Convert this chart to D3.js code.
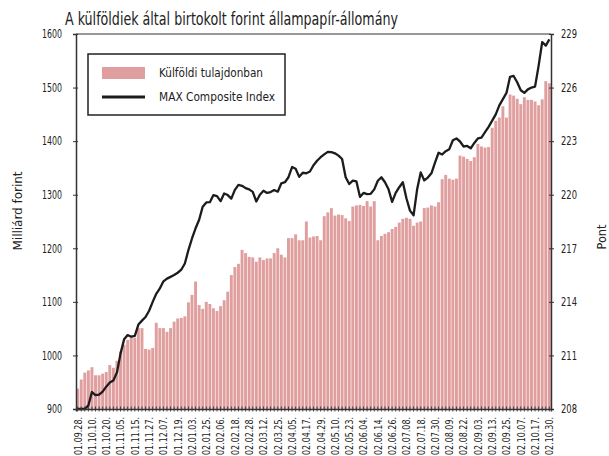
<!DOCTYPE html>
<html>
<head>
<meta charset="utf-8">
<script src="https://cdn.jsdelivr.net/npm/d3@7"></script>
<style>
  body { margin: 0; background: #fff; }
  svg text { font-family: "DejaVu Sans Condensed", "Liberation Sans", sans-serif; fill: #222; }
</style>
</head>
<body>
<svg id="chart" width="609" height="456"></svg>
<script>
// dátum címkék (minden 4. oszlop alatt)
const dateLabels = [
  '01.09.28.', '01.10.10.', '01.10.20.', '01.11.05.', '01.11.15.', '01.11.27.', '01.12.07.', '01.12.19.',
  '02.01.03.', '02.01.25.', '02.02.06.', '02.02.18.', '02.02.28.', '02.03.12.', '02.03.25.', '02.04.05.',
  '02.04.17.', '02.04.29.', '02.05.10.', '02.05.23.', '02.06.04.', '02.06.14.', '02.06.26.', '02.07.08.',
  '02.07.18.', '02.07.30.', '02.08.09.', '02.08.22.', '02.09.03.', '02.09.13.', '02.09.25.', '02.10.07.',
  '02.10.17.', '02.10.30.'
];

// külföldi tulajdonban lévő állomány, milliárd forint
const holdings = [
  938, 955, 968, 972, 978, 963, 963, 966, 969, 982, 977, 990, 1007, 1020, 1029, 1035, 1033, 1051, 1051, 1012,
  1011, 1014, 1061, 1051, 1051, 1044, 1051, 1063, 1069, 1070, 1073, 1099, 1113, 1138, 1094, 1087, 1100, 1096, 1088, 1083,
  1092, 1103, 1119, 1150, 1165, 1171, 1197, 1191, 1184, 1183, 1175, 1183, 1178, 1181, 1181, 1191, 1200, 1188, 1183, 1219,
  1219, 1226, 1215, 1215, 1250, 1220, 1222, 1223, 1215, 1260, 1267, 1275, 1261, 1263, 1262, 1256, 1251, 1278, 1280, 1281,
  1279, 1288, 1278, 1288, 1215, 1223, 1227, 1230, 1236, 1240, 1248, 1255, 1257, 1255, 1242, 1248, 1250, 1275, 1276, 1280,
  1278, 1286, 1329, 1337, 1330, 1328, 1330, 1373, 1371, 1367, 1363, 1370, 1395, 1390, 1388, 1389, 1425, 1438, 1444, 1465,
  1444, 1487, 1485, 1479, 1469, 1482, 1477, 1477, 1474, 1467, 1478, 1512, 1508
];

// MAX Composite Index, pont
const maxIndex = [
  208.0, 208.0, 208.0, 208.2, 208.95, 208.78, 208.8, 208.97, 209.25, 209.48, 209.6, 210.05, 211.1, 211.9, 212.14, 212.05, 212.1, 212.73, 212.95, 213.15,
  213.5, 214.0, 214.45, 214.75, 215.15, 215.3, 215.4, 215.5, 215.63, 215.8, 216.15, 216.9, 217.55, 218.12, 218.6, 219.33, 219.57, 219.58, 219.98, 219.92,
  219.64, 220.07, 219.98, 219.78, 220.27, 220.55, 220.5, 220.37, 220.3, 220.16, 219.62, 220.0, 220.22, 220.1, 220.15, 220.26, 220.17, 220.64, 220.7, 220.98,
  221.55, 221.45, 221.0, 221.23, 221.2, 221.3, 221.65, 221.9, 222.1, 222.26, 222.4, 222.38, 222.32, 222.19, 222.0, 220.98, 220.6, 220.79, 220.75, 219.88,
  220.1, 220.03, 220.05, 220.3, 220.78, 220.98, 220.7, 220.3, 219.6, 220.1, 220.42, 220.7, 219.8, 219.11, 218.85, 220.3, 221.25, 220.8, 220.96, 221.2,
  221.8, 222.35, 222.25, 222.44, 222.55, 223.05, 223.15, 222.98, 222.7, 222.73, 222.6, 222.9, 223.15, 223.2, 223.5, 223.8, 224.15, 224.5, 225.0, 225.35,
  225.7, 226.6, 226.65, 226.3, 225.85, 225.7, 225.9, 226.0, 226.05, 227.23, 228.55, 228.35, 228.7
];

const leftTicks = [900, 1000, 1100, 1200, 1300, 1400, 1500, 1600];
const rightTicks = [208, 211, 214, 217, 220, 223, 226, 229];

const barColor = '#e09e9e';
const lineColor = '#1c1c1c';
const axisColor = '#333';

const svg = d3.select('#chart');
const plotLeft = 76, plotRight = 551, plotTop = 34, plotBottom = 409;

// keskeny (condensed) betű hatás: a szöveget a mért szélességre szorítjuk
function squeeze(sel, len) {
    sel.attr('textLength', len).attr('lengthAdjust', 'spacingAndGlyphs');
}

const x = d3.scaleBand()
    .domain(d3.range(holdings.length))
    .range([plotLeft, plotRight])
    .paddingInner(0.18)
    .paddingOuter(0.05);
const yL = d3.scaleLinear().domain([900, 1600]).range([plotBottom, plotTop]);
const yR = d3.scaleLinear().domain([208, 229]).range([plotBottom, plotTop]);

// cím
svg.append('text')
    .attr('x', 65).attr('y', 25)
    .style('font-size', '18px')
    .text('A külföldiek által birtokolt forint állampapír-állomány')
    .call(squeeze, 333);

// oszlopok
svg.append('g').selectAll('rect')
    .data(holdings)
    .join('rect')
    .attr('x', (d, i) => x(i))
    .attr('y', d => yL(d))
    .attr('width', x.bandwidth())
    .attr('height', d => yL(900) - yL(d))
    .attr('fill', barColor);

// index vonal
const line = d3.line()
    .x((d, i) => x(i) + x.bandwidth() / 2)
    .y(d => yR(d));
svg.append('path')
    .datum(maxIndex)
    .attr('d', line)
    .attr('fill', 'none')
    .attr('stroke', lineColor)
    .attr('stroke-width', 2.3)
    .attr('stroke-linejoin', 'round');

// keret teteje
svg.append('line')
    .attr('x1', plotLeft).attr('x2', plotRight).attr('y1', plotTop).attr('y2', plotTop)
    .attr('stroke', axisColor).attr('stroke-width', 1.2);

// bal tengely
const axL = svg.append('g')
    .attr('transform', `translate(${plotLeft},0)`)
    .call(d3.axisLeft(yL).tickValues(leftTicks).tickFormat(d3.format('d'))
        .tickSizeOuter(0).tickSize(3).tickPadding(11));
axL.select('.domain').attr('stroke', axisColor).attr('stroke-width', 1.5);
axL.selectAll('.tick line').attr('x1', 2).attr('stroke', axisColor);
axL.selectAll('.tick text')
    .style('font-size', '12px').attr('fill', '#222')
    .each(function(d) { squeeze(d3.select(this), String(d).length * 5); });

// jobb tengely
const axR = svg.append('g')
    .attr('transform', `translate(${plotRight},0)`)
    .call(d3.axisRight(yR).tickValues(rightTicks).tickFormat(d3.format('d'))
        .tickSizeOuter(0).tickSize(3).tickPadding(7));
axR.select('.domain').attr('stroke', axisColor).attr('stroke-width', 1.5);
axR.selectAll('.tick line').attr('x1', -2).attr('stroke', axisColor);
axR.selectAll('.tick text')
    .style('font-size', '12px').attr('fill', '#222')
    .call(squeeze, 16);

// alsó tengely: sűrű osztás minden oszlopnál, címke minden negyediknél
const axB = svg.append('g')
    .attr('transform', `translate(0,${plotBottom})`)
    .call(d3.axisBottom(x).tickSizeOuter(0).tickSize(2.5)
        .tickFormat(i => i % 4 === 0 ? dateLabels[i / 4] : ''));
axB.select('.domain').attr('stroke', axisColor).attr('stroke-width', 1.5);
axB.selectAll('.tick line').attr('y1', -2.5).attr('stroke', axisColor).attr('stroke-width', 0.9);
axB.selectAll('.tick text')
    .filter(i => i % 4 === 0)
    .style('font-size', '11px')
    .attr('fill', '#222')
    .attr('text-anchor', 'end')
    .attr('transform', 'rotate(-90)')
    .attr('x', -8).attr('y', 0).attr('dy', '0.35em')
    .call(squeeze, 38);

// tengelycímek
svg.append('text')
    .attr('transform', 'translate(17,211) rotate(-90)')
    .attr('text-anchor', 'middle')
    .attr('dy', '0.35em')
    .style('font-size', '13px')
    .text('Milliárd forint')
    .call(squeeze, 79);
svg.append('text')
    .attr('transform', 'translate(601,237) rotate(-90)')
    .attr('text-anchor', 'middle')
    .attr('dy', '0.35em')
    .style('font-size', '13px')
    .text('Pont')
    .call(squeeze, 25);

// jelmagyarázat
const legend = svg.append('g');
legend.append('rect')
    .attr('x', 88).attr('y', 54).attr('width', 197).attr('height', 61)
    .attr('fill', '#fff').attr('stroke', '#222').attr('stroke-width', 1.5);
legend.append('rect')
    .attr('x', 102).attr('y', 67).attr('width', 43).attr('height', 12)
    .attr('fill', barColor);
legend.append('line')
    .attr('x1', 102).attr('x2', 145).attr('y1', 97).attr('y2', 97)
    .attr('stroke', lineColor).attr('stroke-width', 3);
legend.append('text')
    .attr('x', 159).attr('y', 73).attr('dy', '0.35em')
    .style('font-size', '12.5px')
    .text('Külföldi tulajdonban')
    .call(squeeze, 104);
legend.append('text')
    .attr('x', 159).attr('y', 97).attr('dy', '0.35em')
    .style('font-size', '12.5px')
    .text('MAX Composite Index')
    .call(squeeze, 116);
</script>
</body>
</html>
